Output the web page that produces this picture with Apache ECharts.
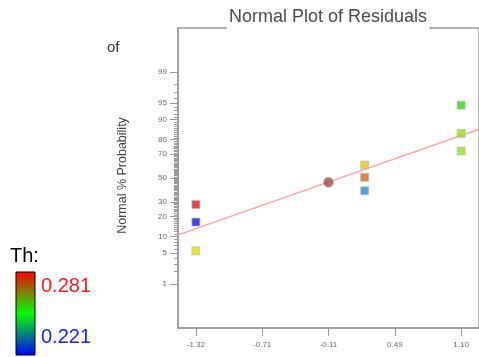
<!DOCTYPE html>
<html>
<head>
<meta charset="utf-8">
<script src="https://cdn.jsdelivr.net/npm/echarts@6.0.0/dist/echarts.min.js"></script>
<style>
html,body{margin:0;padding:0;background:#fff;}
#chart{width:479px;height:357px;}
</style>
</head>
<body>
<div id="chart"></div>
<script>
// ---- data ----
const residuals   = [-1.32, -1.32, -1.32, -0.11, 0.22, 0.22, 0.22, 1.10, 1.10, 1.10];
const probability = [28, 16.7, 5.5, 46.2, 61.2, 50.6, 39, 94.5, 83.6, 72.3];
const pointColors = ['#dd1515','#1515dd','#dddd00','#a04a4a','#e8c400','#e0620a','#1a90e0','#33cc15','#99dd15','#99dd15'];
const pointShapes = ['rect','rect','rect','circle','rect','rect','rect','rect','rect','rect'];
const fitLineX    = [-1.483, 1.263];
const fitLineP    = [10.6, 85.8];
const xTickValues = [-1.32, -0.715, -0.11, 0.495, 1.10];
const xTickLabels = ['-1.32', '-0.71', '-0.11', '0.49', '1.10'];
const yTickPercents = [1, 5, 10, 20, 30, 50, 70, 80, 90, 95, 99];
const yMinorPercents = Array.from({length: 99}, (_, i) => i + 1);
const legendTitle = 'Th:';
const legendLabels = ['0.281', '0.221'];

// inverse normal CDF (probability scale)
function probit(p) {
  const a=[-3.969683028665376e+01,2.209460984245205e+02,-2.759285104469687e+02,1.383577518672690e+02,-3.066479806614716e+01,2.506628277459239e+00];
  const b=[-5.447609879822406e+01,1.615858368580409e+02,-1.556989798598866e+02,6.680131188771972e+01,-1.328068155288572e+01];
  const c=[-7.784894002430293e-03,-3.223964580411365e-01,-2.400758277161838e+00,-2.549732539343734e+00,4.374664141464968e+00,2.938163982698783e+00];
  const d=[7.784695709041462e-03,3.224671290700398e-01,2.445134137142996e+00,3.754408661907416e+00];
  const pl = 0.02425, ph = 1 - pl;
  if (p < pl) { const q = Math.sqrt(-2*Math.log(p)); return (((((c[0]*q+c[1])*q+c[2])*q+c[3])*q+c[4])*q+c[5])/((((d[0]*q+d[1])*q+d[2])*q+d[3])*q+1); }
  if (p <= ph) { const q = p-0.5, r = q*q; return (((((a[0]*r+a[1])*r+a[2])*r+a[3])*r+a[4])*r+a[5])*q/(((((b[0]*r+b[1])*r+b[2])*r+b[3])*r+b[4])*r+1); }
  const q = Math.sqrt(-2*Math.log(1-p)); return -(((((c[0]*q+c[1])*q+c[2])*q+c[3])*q+c[4])*q+c[5])/((((d[0]*q+d[1])*q+d[2])*q+d[3])*q+1);
}
const z = pc => probit(pc / 100);
const yTickZ = yTickPercents.map(z);
const yMinorZ = yMinorPercents.map(z);

const FONT = 'Liberation Sans, Arial, sans-serif';
const AXIS_COLOR = '#9a9a9a';
const chart = echarts.init(document.getElementById('chart'), null, {renderer: 'canvas'});

const scatterData = residuals.map((x, i) => ({
  value: [x, z(probability[i])],
  symbol: pointShapes[i],
  symbolSize: pointShapes[i] === 'circle' ? 10 : 8,
  itemStyle: {color: pointColors[i], borderColor: 'rgba(190,190,190,0.9)', borderWidth: 1}
}));

chart.setOption({
  animation: false,
  backgroundColor: '#fff',
  title: {
    text: 'Normal Plot of Residuals',
    left: 227, top: 5,
    padding: [3, 2, 4, 2],
    backgroundColor: '#fff',
    textStyle: {fontFamily: FONT, fontSize: 18, fontWeight: 'normal', color: '#4a4a4a'}
  },
  grid: {
    left: 178, top: 28, width: 303, height: 300,
    show: true, borderColor: AXIS_COLOR, borderWidth: 1.5, backgroundColor: '#fff'
  },
  xAxis: {
    type: 'value', min: -1.483, max: 1.263,
    axisLine: {show: true, onZero: false, lineStyle: {color: AXIS_COLOR, width: 1.5}},
    axisTick: {show: true, length: 8, customValues: xTickValues, lineStyle: {color: AXIS_COLOR}},
    axisLabel: {
      customValues: xTickValues, margin: 13,
      fontFamily: FONT, fontSize: 8, color: '#6a6a6a',
      formatter: v => { let k = 0, best = 1e9; xTickValues.forEach((t, i) => { const d = Math.abs(t - v); if (d < best) { best = d; k = i; } }); return xTickLabels[k]; }
    },
    splitLine: {show: false}
  },
  yAxis: [{
    type: 'value', min: -3.29, max: 3.29, position: 'left',
    name: 'Normal % Probability', nameLocation: 'middle', nameGap: 49,
    nameTextStyle: {fontFamily: FONT, fontSize: 12.5, color: '#444', padding: [0, 0, 0, 5]},
    axisLine: {show: true, onZero: false, lineStyle: {color: AXIS_COLOR, width: 1.5}},
    axisTick: {show: true, length: 8, customValues: yTickZ, lineStyle: {color: AXIS_COLOR}},
    axisLabel: {
      customValues: yTickZ, margin: 11,
      fontFamily: FONT, fontSize: 8, color: '#6a6a6a',
      formatter: v => { let k = 0, best = 1e9; yTickZ.forEach((t, i) => { const d = Math.abs(t - v); if (d < best) { best = d; k = i; } }); return String(yTickPercents[k]); }
    },
    splitLine: {show: false}
  }, {
    type: 'value', min: -3.29, max: 3.29, position: 'left',
    axisLine: {show: false, onZero: false},
    axisTick: {show: true, length: 4, customValues: yMinorZ, lineStyle: {color: AXIS_COLOR}},
    axisLabel: {show: false},
    splitLine: {show: false}
  }],
  series: [{
    type: 'line',
    data: fitLineX.map((x, i) => [x, z(fitLineP[i])]),
    symbol: 'none',
    lineStyle: {color: '#ffa5a5', width: 1.5},
    z: 2
  }, {
    type: 'scatter',
    data: scatterData,
    z: 3
  }],
  graphic: [
    {type: 'text', left: 107, top: 40, style: {text: 'of', font: '15px ' + FONT, fill: '#333'}},
    {type: 'text', left: 10, top: 246, style: {text: legendTitle, font: '20px ' + FONT, fill: '#000'}},
    {type: 'rect', shape: {x: 16, y: 272, width: 19, height: 83},
      style: {
        fill: new echarts.graphic.LinearGradient(0, 0, 0, 1, [
          {offset: 0, color: '#ff0000'}, {offset: 0.5, color: '#00ff00'}, {offset: 1, color: '#0000ff'}
        ]),
        stroke: '#000', lineWidth: 1
      }},
    {type: 'text', left: 41, top: 276, style: {text: legendLabels[0], font: '20px ' + FONT, fill: '#ff1a1a'}},
    {type: 'text', left: 41, top: 327, style: {text: legendLabels[1], font: '20px ' + FONT, fill: '#2020ff'}}
  ]
});
</script>
</body>
</html>
